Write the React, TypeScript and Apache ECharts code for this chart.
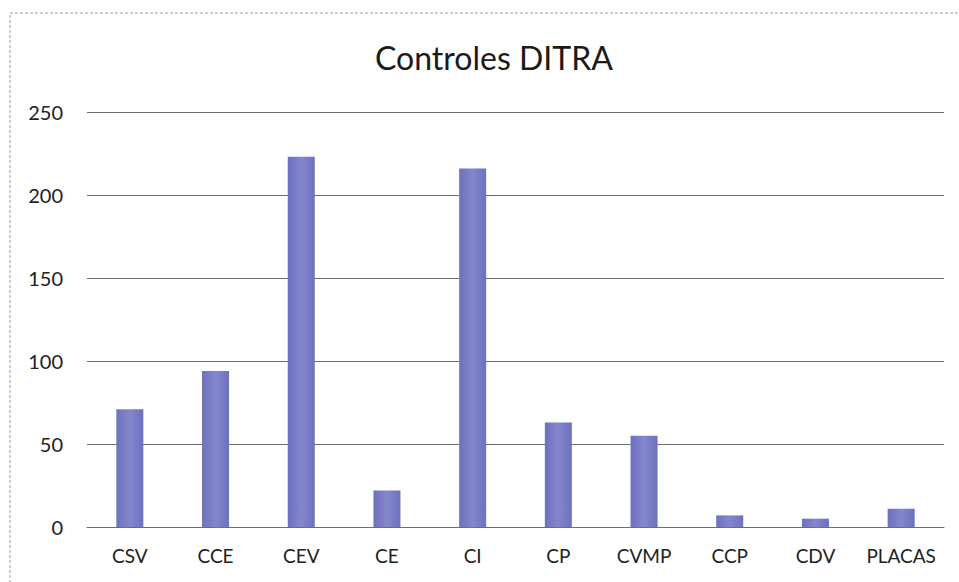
import React, { useEffect, useRef } from "react";
import * as echarts from "echarts";

const titleText = "Controles DITRA";
const categories = ["CSV", "CCE", "CEV", "CE", "CI", "CP", "CVMP", "CCP", "CDV", "PLACAS"];
const values = [71, 94, 223, 22, 216, 63, 55, 7, 5, 11];
const yMin = 0;
const yMax = 250;
const yStep = 50;

export default function App() {
  const ref = useRef<HTMLDivElement>(null);
  useEffect(() => {
    document.body.style.margin = "0";
    const chart = echarts.init(ref.current!, null, { renderer: "svg" });
    const font = "Lato, 'Open Sans', sans-serif";
    chart.setOption({
      animation: false,
      backgroundColor: "#ffffff",
      title: {
        text: titleText,
        left: 370,
        top: 36,
        textStyle: { fontFamily: font, fontSize: 32, fontWeight: "normal", color: "#1a1a1a" },
      },
      graphic: [
        {
          type: "rect",
          shape: { x: 10, y: 13, width: 960, height: 580 },
          style: { fill: "none", stroke: "#9a9a9a", lineWidth: 1, lineDash: [3, 2] },
          silent: true,
        },
      ],
      grid: { left: 87, right: 15, top: 112, bottom: 55 },
      xAxis: {
        type: "category",
        data: categories,
        axisLine: { show: true, lineStyle: { color: "#6e6e6e", width: 1 } },
        axisTick: { show: false },
        axisLabel: {
          fontFamily: font,
          fontSize: 19,
          color: "#222",
          margin: 19,
          interval: 0,
          hideOverlap: false,
        },
      },
      yAxis: {
        type: "value",
        min: yMin,
        max: yMax,
        interval: yStep,
        axisLine: { show: false },
        axisTick: { show: false },
        axisLabel: { fontFamily: font, fontSize: 20, color: "#222", margin: 24 },
        splitLine: { show: true, lineStyle: { color: "#6e6e6e", width: 1 } },
      },
      series: [
        {
          type: "bar",
          data: values,
          barWidth: 27,
          itemStyle: {
            color: new echarts.graphic.LinearGradient(0, 0, 1, 0, [
              { offset: 0, color: "#6d70bd" },
              { offset: 0.5, color: "#8487cc" },
              { offset: 1, color: "#6d70bd" },
            ]),
          },
        },
      ],
    });
    return () => chart.dispose();
  }, []);
  return <div ref={ref} style={{ width: 959, height: 582 }} />;
}
